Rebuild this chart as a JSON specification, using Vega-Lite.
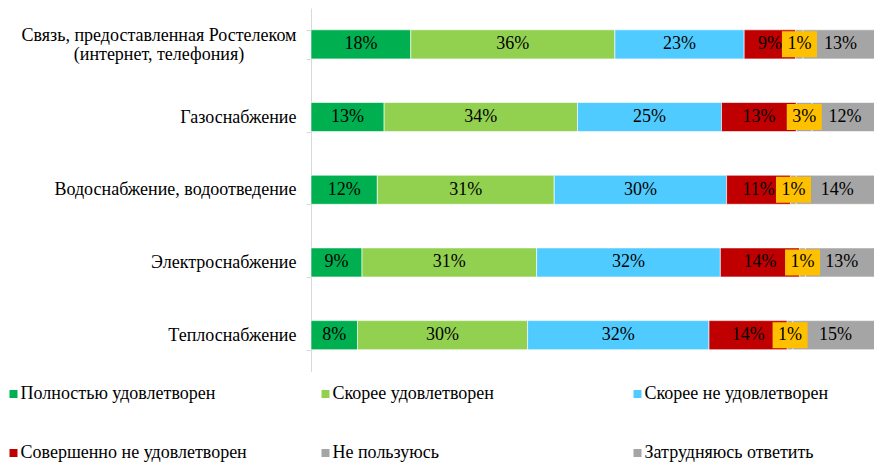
{
  "$schema": "https://vega.github.io/schema/vega-lite/v6.json",
  "width": 563,
  "height": 363.5,
  "autosize": {"type": "none"},
  "padding": {"left": 311, "top": 8, "right": 0, "bottom": 90.5},
  "background": "white",
  "config": {"view": {"stroke": null}, "font": "Liberation Serif"},
  "data": {
    "values": [
      {"cat": "Связь, предоставленная Ростелеком|(интернет, телефония)", "resp": "Полностью удовлетворен", "ord": 1, "v": 0.176},
      {"cat": "Связь, предоставленная Ростелеком|(интернет, телефония)", "resp": "Скорее удовлетворен", "ord": 2, "v": 0.360},
      {"cat": "Связь, предоставленная Ростелеком|(интернет, телефония)", "resp": "Скорее не удовлетворен", "ord": 3, "v": 0.228},
      {"cat": "Связь, предоставленная Ростелеком|(интернет, телефония)", "resp": "Совершенно не удовлетворен", "ord": 4, "v": 0.091},
      {"cat": "Связь, предоставленная Ростелеком|(интернет, телефония)", "resp": "Не пользуюсь", "ord": 5, "v": 0.013},
      {"cat": "Связь, предоставленная Ростелеком|(интернет, телефония)", "resp": "Затрудняюсь ответить", "ord": 6, "v": 0.132},
      {"cat": "Газоснабжение", "resp": "Полностью удовлетворен", "ord": 1, "v": 0.129},
      {"cat": "Газоснабжение", "resp": "Скорее удовлетворен", "ord": 2, "v": 0.341},
      {"cat": "Газоснабжение", "resp": "Скорее не удовлетворен", "ord": 3, "v": 0.254},
      {"cat": "Газоснабжение", "resp": "Совершенно не удовлетворен", "ord": 4, "v": 0.132},
      {"cat": "Газоснабжение", "resp": "Не пользуюсь", "ord": 5, "v": 0.028},
      {"cat": "Газоснабжение", "resp": "Затрудняюсь ответить", "ord": 6, "v": 0.116},
      {"cat": "Водоснабжение, водоотведение", "resp": "Полностью удовлетворен", "ord": 1, "v": 0.117},
      {"cat": "Водоснабжение, водоотведение", "resp": "Скорее удовлетворен", "ord": 2, "v": 0.312},
      {"cat": "Водоснабжение, водоотведение", "resp": "Скорее не удовлетворен", "ord": 3, "v": 0.304},
      {"cat": "Водоснабжение, водоотведение", "resp": "Совершенно не удовлетворен", "ord": 4, "v": 0.113},
      {"cat": "Водоснабжение, водоотведение", "resp": "Не пользуюсь", "ord": 5, "v": 0.010},
      {"cat": "Водоснабжение, водоотведение", "resp": "Затрудняюсь ответить", "ord": 6, "v": 0.144},
      {"cat": "Электроснабжение", "resp": "Полностью удовлетворен", "ord": 1, "v": 0.090},
      {"cat": "Электроснабжение", "resp": "Скорее удовлетворен", "ord": 2, "v": 0.308},
      {"cat": "Электроснабжение", "resp": "Скорее не удовлетворен", "ord": 3, "v": 0.324},
      {"cat": "Электроснабжение", "resp": "Совершенно не удовлетворен", "ord": 4, "v": 0.140},
      {"cat": "Электроснабжение", "resp": "Не пользуюсь", "ord": 5, "v": 0.010},
      {"cat": "Электроснабжение", "resp": "Затрудняюсь ответить", "ord": 6, "v": 0.128},
      {"cat": "Теплоснабжение", "resp": "Полностью удовлетворен", "ord": 1, "v": 0.082},
      {"cat": "Теплоснабжение", "resp": "Скорее удовлетворен", "ord": 2, "v": 0.300},
      {"cat": "Теплоснабжение", "resp": "Скорее не удовлетворен", "ord": 3, "v": 0.320},
      {"cat": "Теплоснабжение", "resp": "Совершенно не удовлетворен", "ord": 4, "v": 0.138},
      {"cat": "Теплоснабжение", "resp": "Не пользуюсь", "ord": 5, "v": 0.010},
      {"cat": "Теплоснабжение", "resp": "Затрудняюсь ответить", "ord": 6, "v": 0.150}
    ]
  },
  "encoding": {
    "y": {
      "field": "cat",
      "type": "nominal",
      "sort": ["Связь, предоставленная Ростелеком|(интернет, телефония)", "Газоснабжение", "Водоснабжение, водоотведение", "Электроснабжение", "Теплоснабжение"],
      "scale": {"paddingInner": 0.6, "paddingOuter": 0.3},
      "axis": {
        "title": null,
        "domainColor": "#d9d9d9",
        "domainWidth": 1,
        "tickColor": "#d9d9d9",
        "tickWidth": 1,
        "tickSize": 5,
        "tickBand": "extent",
        "labelFont": "Liberation Serif",
        "labelFontSize": 18,
        "labelColor": "black",
        "labelPadding": {"condition": {"test": "indexof(datum.label, '|') >= 0", "value": 147.5}, "value": 10},
        "labelAlign": {"condition": {"test": "indexof(datum.label, '|') >= 0", "value": "center"}, "value": "right"},
        "labelOffset": {"condition": {"test": "indexof(datum.label, '|') >= 0", "value": -8.5}, "value": 0},
        "labelLimit": 400,
        "labelLineHeight": 19,
        "labelExpr": "indexof(datum.label, '|') >= 0 ? split(datum.label, '|') : datum.label"
      }
    }
  },
  "layer": [
    {
      "mark": {"type": "bar", "clip": true, "stroke": "white", "strokeWidth": 1, "strokeOpacity": 0.6},
      "encoding": {
        "x": {"field": "v", "type": "quantitative", "stack": "zero", "scale": {"domain": [0, 0.993], "nice": false, "zero": true}, "axis": null},
        "color": {
          "field": "resp",
          "type": "nominal",
          "scale": {
            "domain": ["Полностью удовлетворен", "Скорее удовлетворен", "Скорее не удовлетворен", "Совершенно не удовлетворен", "Не пользуюсь", "Затрудняюсь ответить"],
            "range": ["#00b050", "#92d050", "#50cbff", "#c00000", "#a5a5a5", "#a5a5a5"]
          },
          "legend": {
            "orient": "none",
            "legendX": -306.5,
            "legendY": 377,
            "columns": 3,
            "direction": "horizontal",
            "title": null,
            "symbolType": "square",
            "symbolSize": 64,
            "symbolStrokeWidth": 0,
            "symbolOpacity": 1,
            "labelFont": "Liberation Serif",
            "labelFontSize": 18,
            "labelColor": "black",
            "labelOffset": -2,
            "labelLimit": 400,
            "rowPadding": 41,
            "columnPadding": 69,
            "gridAlign": "all",
            "padding": 0
          }
        },
        "order": {"field": "ord", "type": "quantitative"}
      }
    },
    {
      "mark": {"type": "text", "font": "Liberation Serif", "fontSize": 18, "color": "black", "align": "center", "baseline": "middle"},
      "encoding": {
        "x": {"field": "v", "type": "quantitative", "stack": "zero", "bandPosition": 0.5},
        "detail": {"field": "resp", "type": "nominal"},
        "order": {"field": "ord", "type": "quantitative"},
        "text": {"field": "v", "type": "quantitative", "format": ".0%"},
        "opacity": {"condition": {"test": "datum.resp === 'Не пользуюсь'", "value": 0}, "value": 1}
      }
    },
    {
      "mark": {"type": "point", "shape": "M-1,-0.743L1,-0.743L1,0.743L-1,0.743Z", "filled": true, "color": "#ffc000", "size": 1225, "strokeWidth": 0},
      "encoding": {
        "x": {"field": "v", "type": "quantitative", "stack": "zero", "bandPosition": 0.5},
        "detail": {"field": "resp", "type": "nominal"},
        "order": {"field": "ord", "type": "quantitative"},
        "opacity": {"condition": {"test": "datum.resp === 'Не пользуюсь'", "value": 1}, "value": 0}
      }
    },
    {
      "mark": {"type": "text", "font": "Liberation Serif", "fontSize": 18, "color": "black", "align": "center", "baseline": "middle"},
      "encoding": {
        "x": {"field": "v", "type": "quantitative", "stack": "zero", "bandPosition": 0.5},
        "detail": {"field": "resp", "type": "nominal"},
        "order": {"field": "ord", "type": "quantitative"},
        "text": {"field": "v", "type": "quantitative", "format": ".0%"},
        "opacity": {"condition": {"test": "datum.resp === 'Не пользуюсь'", "value": 1}, "value": 0}
      }
    }
  ]
}
